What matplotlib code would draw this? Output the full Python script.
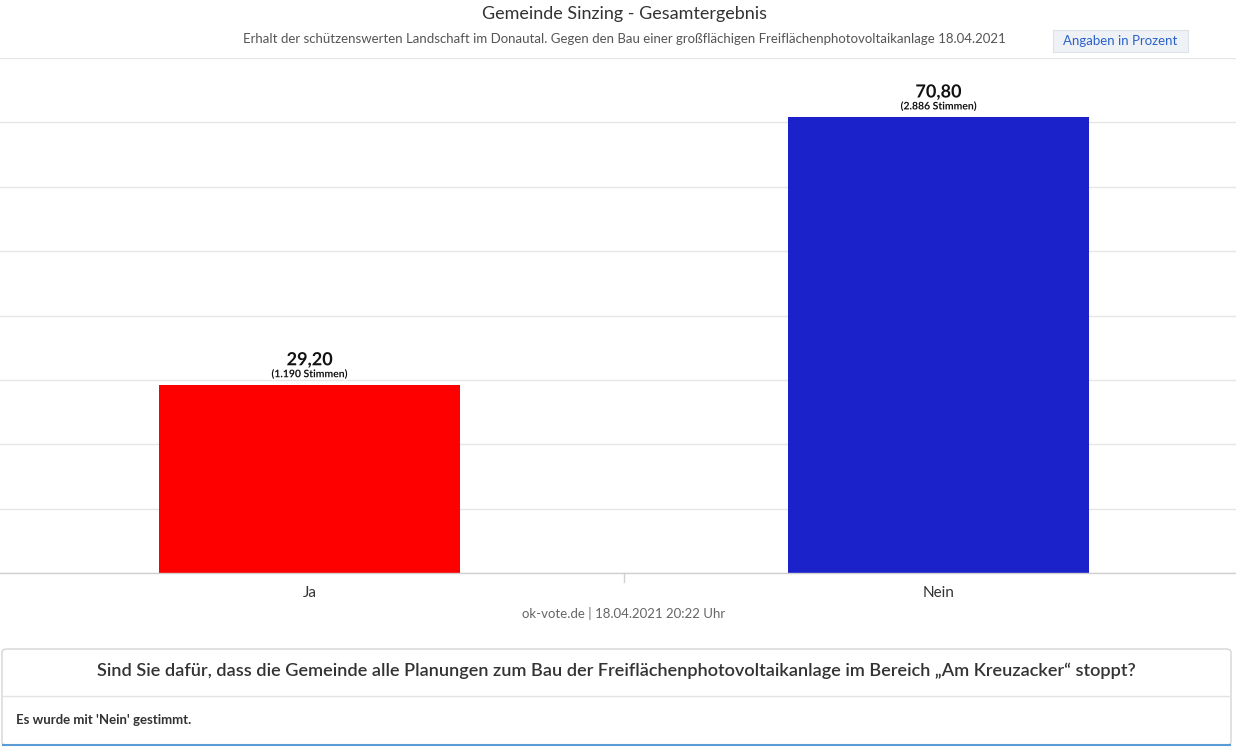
import matplotlib
matplotlib.use("Agg")
import matplotlib.pyplot as plt
from matplotlib.patches import FancyBboxPatch
import matplotlib.patheffects as pe

plt.rcParams['font.family'] = ['Lato', 'DejaVu Sans']

categories = ["Ja", "Nein"]
values = [29.20, 70.80]
votes = ["1.190", "2.886"]
colors = ["#ff0000", "#1b22c9"]
value_labels = ["29,20", "70,80"]
y_ticks = [0, 10, 20, 30, 40, 50, 60, 70, 80]

W, H = 1236, 748
fig = plt.figure(figsize=(W / 100, H / 100), dpi=100)
fig.patch.set_facecolor("white")

def fx(px):
    return px / W

def fy(py):
    return 1 - py / H

ax = fig.add_axes([0, fy(573), 1, fy(58) - fy(573)])
ax.set_facecolor("white")
x = list(range(len(categories)))
ax.bar(x, values, width=0.4785, color=colors, zorder=3)
ax.set_xlim(-0.492, 1.473)
ax.set_ylim(0, 80)
ax.set_yticks(y_ticks)
ax.yaxis.grid(True, color="#e6e6e6", linewidth=1, zorder=0)
ax.tick_params(left=False, labelleft=False, bottom=False, labelbottom=False)
for s in ["left", "right", "top"]:
    ax.spines[s].set_visible(False)
ax.spines["bottom"].set_color("#d0d0d0")
ax.spines["bottom"].set_linewidth(1)
ax.spines["bottom"].set_zorder(4)

# category separator tick
ax.plot([0.5, 0.5], [0, -1.4], color="#d0d0d0", lw=1, clip_on=False)

outline = [pe.withStroke(linewidth=2.5, foreground="white")]
for i, (v, lab, vt) in enumerate(zip(values, value_labels, votes)):
    ax.text(i, v + 2.6, lab, ha="center", va="bottom", fontsize=13,
            fontweight="bold", color="#111111", path_effects=outline, zorder=5)
    ax.text(i, v + 0.9, f"({vt} Stimmen)", ha="center", va="bottom", fontsize=7.5,
            fontweight="bold", color="#111111", path_effects=outline, zorder=5)
    ax.text(i, -2.0, categories[i], ha="center", va="top", fontsize=11,
            color="#333333", clip_on=False)

# titles
fig.text(fx(624), fy(14), "Gemeinde Sinzing - Gesamtergebnis", ha="center",
         va="center", fontsize=13, color="#333333")
fig.text(fx(624), fy(39),
         "Erhalt der schützenswerten Landschaft im Donautal. Gegen den Bau einer großflächigen Freiflächenphotovoltaikanlage 18.04.2021",
         ha="center", va="center", fontsize=9.5, color="#555555")

# button
fig.patches.append(FancyBboxPatch((fx(1053), fy(52)), fx(135), fy(30) - fy(52),
                                  boxstyle="square,pad=0", transform=fig.transFigure,
                                  facecolor="#eef1f5", edgecolor="#dde2e8", lw=0.8))
fig.text(fx(1120), fy(41), "Angaben in Prozent", ha="center", va="center",
         fontsize=9.5, color="#2a62c9")

# credits
fig.text(fx(624), fy(613), "ok-vote.de | 18.04.2021 20:22 Uhr", ha="center",
         va="center", fontsize=9.5, color="#666666")

# question box
box = FancyBboxPatch((fx(2), fy(745)), fx(1229), fy(649) - fy(745),
                     boxstyle="round,pad=0,rounding_size=0.004",
                     transform=fig.transFigure, facecolor="white",
                     edgecolor="#d5d5d5", lw=1)
fig.patches.append(box)
fig.lines.append(plt.Line2D([fx(2), fx(1231)], [fy(696), fy(696)],
                            transform=fig.transFigure, color="#e3e3e3", lw=1))
fig.lines.append(plt.Line2D([fx(3), fx(1230)], [fy(745), fy(745)],
                            transform=fig.transFigure, color="#5b9bd5", lw=1.5))
fig.text(fx(616), fy(671),
         "Sind Sie dafür, dass die Gemeinde alle Planungen zum Bau der Freiflächenphotovoltaikanlage im Bereich „Am Kreuzacker“ stoppt?",
         ha="center", va="center", fontsize=13.1, fontweight="semibold", color="#333333")
fig.text(fx(16), fy(720), "Es wurde mit 'Nein' gestimmt.", ha="left", va="center",
         fontsize=9.5, fontweight="bold", color="#333333")

fig.savefig("out.png", dpi=100, facecolor="white")
